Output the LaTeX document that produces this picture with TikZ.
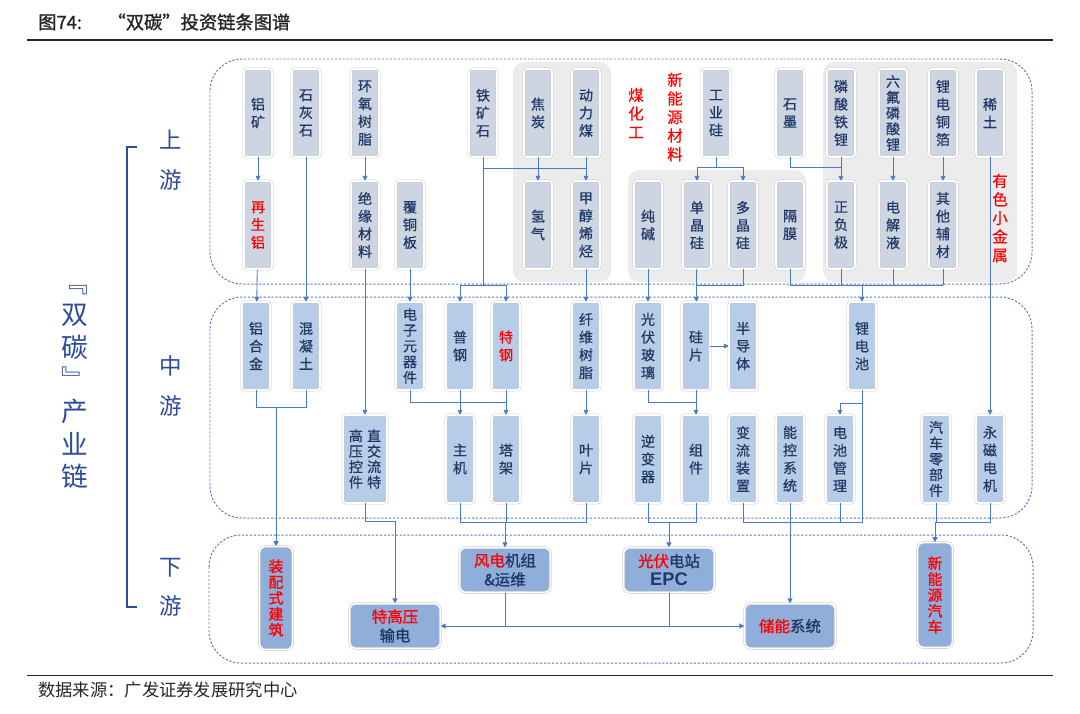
\documentclass[tikz,border=0pt]{standalone}
\usepackage{fontspec}
\setmainfont{Noto Sans CJK SC}
\newfontfamily\cjkbf[FakeBold=1.3]{Noto Sans CJK SC}
\newfontfamily\cjkmed[FakeBold=0.5]{Noto Sans CJK SC}
\newfontfamily\epcfont{Liberation Sans}
\usetikzlibrary{arrows.meta}

\definecolor{navy}{HTML}{1F3864}
\definecolor{upfill}{HTML}{CDD4E2}
\definecolor{midfill}{HTML}{B7CDE7}
\definecolor{downfill}{HTML}{8FAFDA}
\definecolor{panelgray}{HTML}{ECECEC}
\definecolor{zoneblue}{HTML}{5B7BC0}
\definecolor{lineblue}{HTML}{4A78C8}
\definecolor{sidecol}{HTML}{2B4C9B}

\newcommand\boxfont{\cjkmed\fontsize{10}{12.6}\selectfont}
\newcommand\fivefont{\cjkmed\fontsize{10}{11.2}\selectfont}
\newcommand\downfont{\cjkbf\fontsize{11}{13.5}\selectfont}

\tikzset{
  box/.style={rectangle, rounded corners=2pt, draw=black!22, double=white,
    double distance=1.1pt, line width=0.35pt, minimum width=0.7cm,
    minimum height=2.2cm, inner sep=0pt, align=center, text=navy, font=\boxfont},
  upbox/.style={box, fill=upfill},
  midbox/.style={box, fill=midfill},
  downbox/.style={box, fill=downfill, rounded corners=4pt, font=\downfont,
    minimum width=2.27cm, minimum height=1.12cm},
  five/.style={font=\fivefont},
  redlab/.style={text=red, align=center, inner sep=0pt, font=\cjkmed\fontsize{11}{13.2}\selectfont},
  sidelab/.style={text=sidecol, align=center, inner sep=0pt, font=\fontsize{16}{28}\selectfont},
  panel/.style={fill=panelgray, rounded corners=8pt},
  zone/.style={draw=zoneblue, line width=0.7pt, dash pattern=on 1.6pt off 1.2pt, rounded corners=0.8cm},
  link/.style={draw=lineblue, line width=0.6pt},
  arr/.style={link, -{Triangle[length=3.5pt, width=3.5pt]}}
}

\begin{document}
\begin{tikzpicture}[x=0.025cm, y=-0.025cm]
  \useasboundingbox (0,0) rectangle (1080,713);

  % title and source
  \node[anchor=west, inner sep=0pt, font=\cjkbf\fontsize{13}{14}\selectfont, text=black!85] (title) at (38,22) {图74:\hspace{1.4em}“双碳”投资链条图谱};
  \draw[line width=1pt, black!85] (27,40) -- (1053,40);
  \draw[line width=0.6pt, black!85] (27,675) -- (1053,675);
  \node[anchor=west, inner sep=0pt, font=\fontsize{12.3}{13}\selectfont, text=black!85] (source) at (38,690) {数据来源：广发证券发展研究中心};

  % left side labels
  \node[sidelab, font=\fontsize{19}{23}\selectfont] (chain) at (75,387) {﹃\\双\\碳\\﹄\\产\\业\\链};
  \draw[sidecol, line width=1.6pt] (137,147) -- (127,147) -- (127,607) -- (137,607);
  \node[sidelab] (up) at (171,160) {上\\游};
  \node[sidelab] (mid) at (171,386) {中\\游};
  \node[sidelab] (down) at (171,587) {下\\游};

  % panels and zones
  \fill[panel] (513,62) rectangle (611,282);
  \fill[panel] (628,170) rectangle (806,282);
  \fill[panel] (823,62) rectangle (1017,282);
  \draw[zone] (210,59) rectangle (1032,284);
  \draw[zone] (210,297) rectangle (1032,518);
  \draw[zone] (209,535) rectangle (1033,663);

  \node[redlab] (meihuagong) at (636,113) {煤\\化\\工};
  \node[redlab] (xinnengcai) at (675,117) {新\\能\\源\\材\\料};
  \node[redlab] (youse) at (1000,218) {有\\色\\小\\金\\属};

  % upstream
  \node[upbox] (lvkuang) at (258,113) {铝\\矿};
  \node[upbox] (shihuishi) at (306,113) {石\\灰\\石};
  \node[upbox] (huanyang) at (365,113) {环\\氧\\树\\脂};
  \node[upbox] (tiekuang) at (483,113) {铁\\矿\\石};
  \node[upbox] (jiaotan) at (538,113) {焦\\炭};
  \node[upbox] (dongli) at (586,113) {动\\力\\煤};
  \node[upbox] (gongyegui) at (716,113) {工\\业\\硅};
  \node[upbox] (shimo) at (790,113) {石\\墨};
  \node[upbox] (linsuan) at (841,113) {磷\\酸\\铁\\锂};
  \node[upbox, five] (liufu) at (893,113) {六\\氟\\磷\\酸\\锂};
  \node[upbox] (tongbo) at (943,113) {锂\\电\\铜\\箔};
  \node[upbox] (xitu) at (990,113) {稀\\土};

  \node[upbox, text=red] (zaishenglv) at (258,225) {再\\生\\铝};
  \node[upbox] (jueyuan) at (365,225) {绝\\缘\\材\\料};
  \node[upbox] (futong) at (410,225) {覆\\铜\\板};
  \node[upbox] (qingqi) at (538,225) {氢\\气};
  \node[upbox] (jiachun) at (586,225) {甲\\醇\\烯\\烃};
  \node[upbox] (chunjian) at (648,225) {纯\\碱};
  \node[upbox] (danjing) at (697,225) {单\\晶\\硅};
  \node[upbox] (duojing) at (743,225) {多\\晶\\硅};
  \node[upbox] (gemo) at (790,225) {隔\\膜};
  \node[upbox] (zhengfu) at (841,225) {正\\负\\极};
  \node[upbox] (dianjie) at (893,225) {电\\解\\液};
  \node[upbox] (fucai) at (943,225) {其\\他\\辅\\材};

  % midstream
  \node[midbox] (lvhejin) at (256,346) {铝\\合\\金};
  \node[midbox] (hunningtu) at (306,346) {混\\凝\\土};
  \node[midbox, five] (dianzi) at (410,346) {电\\子\\元\\器\\件};
  \node[midbox] (pugang) at (460,346) {普\\钢};
  \node[midbox, text=red] (tegang) at (506,346) {特\\钢};
  \node[midbox] (xianwei) at (586,346) {纤\\维\\树\\脂};
  \node[midbox] (boli) at (648,346) {光\\伏\\玻\\璃};
  \node[midbox] (guipian) at (696,346) {硅\\片};
  \node[midbox] (bandaoti) at (743,346) {半\\导\\体};
  \node[midbox] (lidian) at (862,346) {锂\\电\\池};

  \node[midbox, minimum width=1.1cm, font=\cjkmed\fontsize{10}{11}\selectfont] (gaoya) at (365,459) {高\hspace{3pt}直\\压\hspace{3pt}交\\控\hspace{3pt}流\\件\hspace{3pt}特};
  \node[midbox] (zhuji) at (460,459) {主\\机};
  \node[midbox] (taji) at (506,459) {塔\\架};
  \node[midbox] (yepian) at (586,459) {叶\\片};
  \node[midbox] (nibian) at (648,459) {逆\\变\\器};
  \node[midbox] (zujian) at (696,459) {组\\件};
  \node[midbox] (bianliu) at (743,459) {变\\流\\装\\置};
  \node[midbox] (nengkong) at (790,459) {能\\控\\系\\统};
  \node[midbox] (guanli) at (840,459) {电\\池\\管\\理};
  \node[midbox, five] (qiche) at (936,459) {汽\\车\\零\\部\\件};
  \node[midbox] (yongci) at (990,459) {永\\磁\\电\\机};

  % downstream
  \node[downbox, text=red, minimum width=0.83cm, minimum height=2.58cm, font=\cjkbf\fontsize{10.5}{11.3}\selectfont] (zhuangpei) at (276,598) {装\\配\\式\\建\\筑};
  \node[downbox] (tegaoya) at (395,626) {\textcolor{red}{特高压}\\输电};
  \node[downbox] (fengdian) at (505,570) {\textcolor{red}{风电}机组\\\&运维};
  \node[downbox] (guangfu) at (669,570) {\textcolor{red}{光伏}电站\\{\epcfont\bfseries\fontsize{13}{14}\selectfont EPC}};
  \node[downbox] (chuneng) at (790,626) {\textcolor{red}{储能}系统};
  \node[downbox, text=red, minimum width=0.88cm, minimum height=2.63cm, font=\cjkbf\fontsize{10.5}{11.3}\selectfont] (xinnengyuan) at (935,595) {新\\能\\源\\汽\\车};

  % upstream links
  \draw[arr] (lvkuang) -- (zaishenglv);
  \draw[arr] (huanyang) -- (jueyuan);
  \draw[link] (tiekuang.south |- 0,168) -- (dongli.south |- 0,168);
  \draw[arr] (jiaotan) -- (qingqi);
  \draw[arr] (dongli) -- (jiachun);
  \draw[link] (gongyegui.south) -- (gongyegui.south |- 0,167);
  \draw[link] (danjing.north |- 0,167) -- (duojing.north |- 0,167);
  \draw[arr] (danjing.north |- 0,167) -- (danjing);
  \draw[arr] (duojing.north |- 0,167) -- (duojing);
  \draw[link] (shimo.south) |- (zhengfu.north |- 0,167);
  \draw[arr] (linsuan) -- (zhengfu);
  \draw[arr] (liufu) -- (dianjie);
  \draw[arr] (tongbo) -- (fucai);
  \draw[arr] (xitu) -- (yongci);

  % upstream to midstream
  \draw[arr] (zaishenglv) -- (lvhejin);
  \draw[arr] (shihuishi) -- (hunningtu);
  \draw[arr] (jueyuan) -- (gaoya);
  \draw[arr] (futong) -- (dianzi);
  \draw[link] (tiekuang.south) -- (tiekuang.south |- 0,285);
  \draw[link] (pugang.north |- 0,285) -- (tegang.north |- 0,285);
  \draw[arr] (pugang.north |- 0,285) -- (pugang);
  \draw[arr] (tegang.north |- 0,285) -- (tegang);
  \draw[arr] (jiachun) -- (xianwei);
  \draw[arr] (chunjian) -- (boli);
  \draw[arr] (danjing) -- (guipian);
  \draw[link] (duojing.south) |- (danjing.south |- 0,285);
  \draw[link] (gemo.south) |- (fucai.south |- 0,285);
  \draw[link] (zhengfu.south) -- (zhengfu.south |- 0,285);
  \draw[link] (dianjie.south) -- (dianjie.south |- 0,285);
  \draw[link] (fucai.south) -- (fucai.south |- 0,285);
  \draw[arr] (lidian.north |- 0,285) -- (lidian);

  % midstream links
  \draw[arr] (guipian) -- (bandaoti);
  \draw[link] (lvhejin.south) |- (hunningtu.south |- 0,407) -- (hunningtu.south);
  \draw[arr] (zhuangpei.north |- 0,407) -- (zhuangpei);
  \draw[link] (dianzi.south) |- (tegang.south |- 0,402);
  \draw[arr] (pugang) -- (zhuji);
  \draw[arr] (tegang) -- (taji);
  \draw[arr] (xianwei) -- (yepian);
  \draw[link] (boli.south) |- (zujian.north |- 0,402);
  \draw[arr] (guipian) -- (zujian);
  \draw[arr] (lidian.south |- 0,403) -| (guanli.north);

  % midstream to downstream
  \draw[arr] (gaoya.south) -- ++(0,18) -| (tegaoya.north);
  \draw[link] (zhuji.south) -- ++(0,19) -| (yepian.south);
  \draw[link] (taji.south) -- ++(0,19);
  \draw[arr] (fengdian.north |- 0,522) -- (fengdian);
  \draw[link] (nibian.south) -- ++(0,19) -| (zujian.south);
  \draw[arr] (guangfu.north |- 0,522) -- (guangfu);
  \draw[link] (lidian.south) -- (lidian.south |- 0,522) -| (bianliu.south);
  \draw[link] (nengkong.south) -- ++(0,19);
  \draw[link] (guanli.south) -- ++(0,19);
  \draw[arr] (chuneng.north |- 0,522) -- (chuneng);
  \draw[link] (qiche.south) -- ++(0,19) -| (yongci.south);
  \draw[arr] (xinnengyuan.north |- 0,522) -- (xinnengyuan);

  % downstream links
  \draw[arr] (fengdian.south) |- (tegaoya.east);
  \draw[arr] (fengdian.south |- chuneng.west) -- (chuneng.west);
  \draw[link] (guangfu.south) -- (guangfu.south |- chuneng.west);
\end{tikzpicture}
\end{document}
